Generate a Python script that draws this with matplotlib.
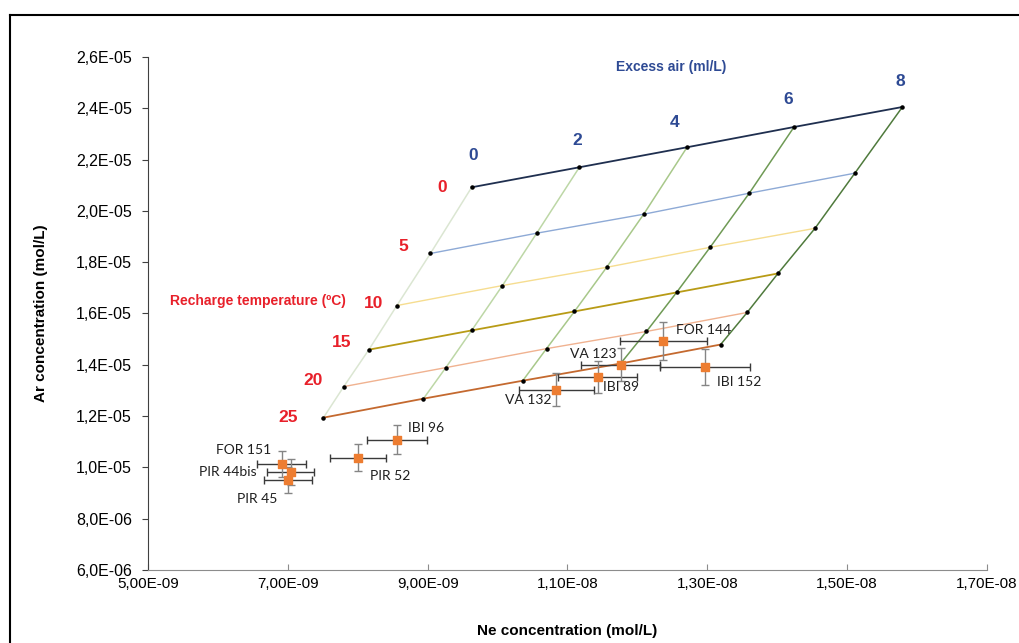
import numpy as np
import matplotlib
matplotlib.use('Agg')
import matplotlib.pyplot as plt
from matplotlib.ticker import FuncFormatter, FixedLocator
from matplotlib.lines import Line2D

#---- Grid: recharge temperature (rows) x excess air (cols) ----
temps = [0, 5, 10, 15, 20, 25]
excess_air = [0, 2, 4, 6, 8]

# Ne (mol/L) for each temperature row, one value per excess air step
ne_grid = [
    [9.63e-9, 11.17e-9, 12.71e-9, 14.24e-9, 15.79e-9],
    [9.04e-9, 10.56e-9, 12.09e-9, 13.60e-9, 15.11e-9],
    [8.56e-9, 10.07e-9, 11.56e-9, 13.04e-9, 14.54e-9],
    [8.16e-9, 9.63e-9, 11.10e-9, 12.56e-9, 14.01e-9],
    [7.80e-9, 9.26e-9, 10.70e-9, 12.13e-9, 13.57e-9],
    [7.51e-9, 8.94e-9, 10.36e-9, 11.76e-9, 13.19e-9],
]
# Ar (mol/L)
ar_grid = [
    [20.92e-6, 21.70e-6, 22.48e-6, 23.27e-6, 24.05e-6],
    [18.34e-6, 19.13e-6, 19.87e-6, 20.69e-6, 21.47e-6],
    [16.31e-6, 17.09e-6, 17.80e-6, 18.58e-6, 19.32e-6],
    [14.59e-6, 15.34e-6, 16.08e-6, 16.82e-6, 17.56e-6],
    [13.15e-6, 13.89e-6, 14.63e-6, 15.30e-6, 16.04e-6],
    [11.94e-6, 12.68e-6, 13.38e-6, 14.05e-6, 14.79e-6],
]

#---- Samples ----
samples = ['FOR 151', 'PIR 44bis', 'PIR 45', 'PIR 52', 'IBI 96',
           'VA 132', 'IBI 89', 'VA 123', 'FOR 144', 'IBI 152']
ne_s = [6.91e-9, 7.04e-9, 7.00e-9, 8.01e-9, 8.56e-9,
        10.84e-9, 11.43e-9, 11.76e-9, 12.37e-9, 12.97e-9]
ar_s = [10.14e-6, 9.83e-6, 9.52e-6, 10.38e-6, 11.08e-6,
        13.03e-6, 13.54e-6, 14.01e-6, 14.91e-6, 13.93e-6]
ne_err = [0.35e-9, 0.34e-9, 0.34e-9, 0.40e-9, 0.43e-9,
          0.54e-9, 0.56e-9, 0.57e-9, 0.62e-9, 0.64e-9]
ar_err = [0.51e-6, 0.50e-6, 0.50e-6, 0.53e-6, 0.57e-6,
          0.64e-6, 0.62e-6, 0.66e-6, 0.74e-6, 0.70e-6]

x_ticks = [5e-9, 7e-9, 9e-9, 11e-9, 13e-9, 15e-9, 17e-9]
y_ticks = [6e-6, 8e-6, 10e-6, 12e-6, 14e-6, 16e-6, 18e-6, 20e-6, 22e-6, 24e-6, 26e-6]

ne_grid = np.array(ne_grid)
ar_grid = np.array(ar_grid)

temp_colors = ['#1f2f4f', '#8eaad6', '#f6dd90', '#b89b16', '#f0b290', '#c4692f']
temp_widths = [1.3, 1.0, 1.0, 1.3, 1.0, 1.3]
ea_colors = ['#dbe6d2', '#bdd7a6', '#a8c88a', '#6f9a55', '#4f7a3c']

fig = plt.figure(figsize=(10.19, 6.43), dpi=100)
ax = fig.add_axes([0.1452, 0.1135, 0.8234, 0.7979])

# excess air lines
for j in range(len(excess_air)):
    ax.plot(ne_grid[:, j], ar_grid[:, j], color=ea_colors[j], lw=1.1, zorder=2)
# temperature lines
for i in range(len(temps)):
    ax.plot(ne_grid[i], ar_grid[i], color=temp_colors[i], lw=temp_widths[i], zorder=3)
ax.scatter(ne_grid.ravel(), ar_grid.ravel(), s=5, color='black', zorder=4)

# samples
ax.errorbar(ne_s, ar_s, xerr=ne_err, fmt='none', ecolor='#3a3a3a',
            elinewidth=1.0, capsize=3, capthick=1.0, zorder=5)
ax.errorbar(ne_s, ar_s, yerr=ar_err, fmt='none', ecolor='#858585',
            elinewidth=1.0, capsize=3, capthick=1.0, zorder=5)
ax.scatter(ne_s, ar_s, marker='s', s=30, color='#ed7d31', zorder=6)

# label offsets in pixels (dx, dy, ha)
offs = [(-10, 14, 'right'), (-34, 0, 'right'), (-31, -19, 'center'),
        (12, -18, 'left'), (11, 12, 'left'), (-5, -10, 'right'),
        (5, -10, 'left'), (-4, 11, 'right'), (13, 11, 'left'), (12, -15, 'left')]
for name, x, y, (dx, dy, ha) in zip(samples, ne_s, ar_s, offs):
    ax.annotate(name, (x, y), xytext=(dx * 0.72, dy * 0.72), textcoords='offset points',
                ha=ha, va='center', fontsize=10, family='Lato', color='#202020', zorder=7)

# grid labels
blue = '#2e4a94'
red = '#e8202a'
ea_off = [(1, 32), (-2, 27), (-12, 25), (-6, 28), (-2, 25)]
for j, ea in enumerate(excess_air):
    dx, dy = ea_off[j]
    ax.annotate(str(ea), (ne_grid[0, j], ar_grid[0, j]), xytext=(dx * 0.72, dy * 0.72),
                textcoords='offset points', ha='center', va='center', fontsize=12.5,
                fontweight='bold', color=blue, family='Liberation Sans')
ax.text(12.49e-9, 25.6e-6, 'Excess air (ml/L)', ha='center', va='center', fontsize=10,
        fontweight='bold', color=blue, family='Liberation Sans')
temp_off = [(-30, 0), (-27, 7), (-23, 2), (-27, 7), (-31, 6), (-35, 0)]
for i, t in enumerate(temps):
    dx, dy = temp_off[i]
    ax.annotate(str(t), (ne_grid[i, 0], ar_grid[i, 0]), xytext=(dx * 0.72, dy * 0.72),
                textcoords='offset points', ha='center', va='center', fontsize=12.5,
                fontweight='bold', color=red, family='Liberation Sans')
ax.text(6.57e-9, 16.47e-6, 'Recharge temperature (\u00baC)', ha='center', va='center',
        fontsize=10, fontweight='bold', color=red, family='Liberation Sans')

# axes
ax.set_xlim(5e-9, 1.7e-8)
ax.set_ylim(6e-6, 2.6e-5)
ax.xaxis.set_major_locator(FixedLocator(x_ticks))
ax.yaxis.set_major_locator(FixedLocator(y_ticks))
ax.xaxis.set_major_formatter(FuncFormatter(lambda v, p: f'{v:.2E}'.replace('.', ',')))
ax.yaxis.set_major_formatter(FuncFormatter(lambda v, p: f'{v:.1E}'.replace('.', ',')))
for s in ['top', 'right']:
    ax.spines[s].set_visible(False)
ax.spines['left'].set_color('#404040')
ax.spines['bottom'].set_color('#8c8c8c')
ax.tick_params(axis='y', direction='out', length=4, color='#404040', labelsize=11.5, pad=7.5)
ax.tick_params(axis='x', direction='in', length=4, color='#8c8c8c', labelsize=11, pad=5)
for lab in ax.get_xticklabels() + ax.get_yticklabels():
    lab.set_family('Liberation Sans')
ax.set_xlabel('Ne concentration (mol/L)', fontsize=11, fontweight='bold',
              family='Liberation Sans', labelpad=24)
ax.set_ylabel('Ar concentration (mol/L)', fontsize=11, fontweight='bold',
              family='Liberation Sans', labelpad=20)

# outer frame (top and left edges visible)
fig.add_artist(Line2D([10 / 1019, 10 / 1019], [0, 1 - 15 / 643], transform=fig.transFigure,
                      color='black', lw=1.5))
fig.add_artist(Line2D([10 / 1019, 1], [1 - 15 / 643, 1 - 15 / 643], transform=fig.transFigure,
                      color='black', lw=1.5))

fig.savefig('out.png', dpi=100)
